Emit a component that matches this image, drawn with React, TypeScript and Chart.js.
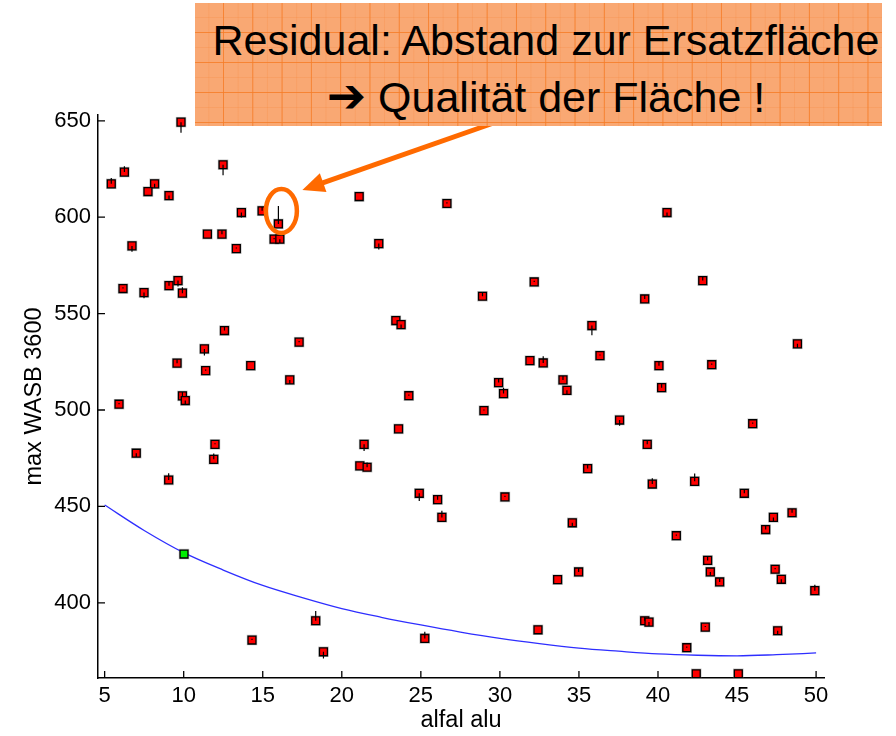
import React, { useEffect, useRef } from "react";
import { Chart, registerables } from "chart.js";

Chart.register(...registerables);

// Measured samples: alfal alu vs. max WASB 3600
const sampleX = [
  9.83, 12.49, 6.25, 5.42, 8.16, 7.74, 9.07, 13.65, 14.96, 15.99,
  15.72, 16.08, 11.5, 12.42, 13.33, 21.1, 6.73, 6.16, 7.49, 9.07,
  9.64, 9.92, 12.58, 17.3, 11.31, 9.58, 11.39, 14.24, 16.71, 9.92,
  10.1, 5.91, 7.0, 11.98, 11.9, 9.05, 18.35, 14.32, 18.84, 21.14,
  26.65, 22.34, 32.17, 28.9, 23.42, 23.75, 35.82, 36.33, 31.9, 32.74,
  29.92, 33.99, 30.23, 34.24, 24.24, 28.99, 23.59, 21.41, 21.6, 35.55,
  24.9, 26.06, 26.33, 30.32, 34.58, 34.98, 33.65, 32.41, 25.25, 37.57,
  40.57, 42.83, 39.16, 48.82, 40.06, 43.4, 40.23, 45.99, 39.32, 39.64,
  42.32, 45.46, 48.48, 47.3, 46.81, 41.16, 43.14, 43.31, 43.9, 47.41,
  47.8, 49.92, 39.16, 39.43, 42.99, 47.57, 41.82, 42.42, 45.08,
];
const sampleY = [
  649.3, 627.2, 623.4, 617.3, 617.3, 613.3, 611.2, 602.4, 603.3, 596.5,
  588.6, 588.6, 591.2, 591.2, 583.7, 610.7, 585.1, 563.0, 560.9, 564.5,
  567.1, 560.6, 541.2, 535.2, 531.7, 524.3, 520.4, 523.0, 515.6, 507.3,
  504.9, 503.0, 477.6, 482.2, 474.4, 463.7, 390.7, 380.7, 374.6, 471.0,
  607.1, 586.3, 566.4, 559.0, 546.4, 544.3, 543.8, 528.2, 525.6, 524.4,
  514.2, 515.6, 508.5, 510.2, 507.4, 499.7, 490.2, 482.2, 470.3, 469.6,
  456.8, 453.5, 444.3, 454.9, 441.5, 416.0, 412.0, 386.0, 381.5, 494.8,
  602.4, 567.1, 557.6, 534.3, 523.0, 523.5, 511.6, 492.9, 482.2, 461.6,
  463.0, 456.8, 446.7, 444.3, 438.0, 434.8, 422.0, 416.0, 410.8, 417.4,
  412.2, 406.3, 390.7, 390.0, 387.4, 385.5, 376.7, 363.2, 363.2,
];
// Residual: signed distance from each sample to the fitted surface
const residual = [
  -5.5, -5.5, 3, 3, -2, 0, -2, -2.5, 2, 9.3,
  0.6, -2, 0, 2, 0.6, 0, -3, 0.6, -3, 2,
  -3, 3, 2, 0.6, -3.5, 2, 0.6, 0, -2, 2,
  -2, 0.6, -2, 0.6, 3, 3.5, 5, 0.6, -3.5, 0,
  0.6, -3, 0.6, 2, 0, -2, -5, 0.6, 0, 3.5,
  2, 2, 3, -2, 0.6, 0.6, 0, -3.5, 2.5, 2,
  -4, 2, 3.5, 0.6, -2, 2, 0, 0, 3.5, -3,
  -2, 2, 2, -2, 2, 0.6, 2, 0.6, 2, 3,
  4, 2, 2, -2, 2, 0.6, 2, -2, 2, 0.6,
  -2, 3, 2, -2, 0.6, -2, 0.6, 0, 0,
];

// Reference sample on the surface
const refX = [10.02];
const refY = [425.3];

// Section through the fitted surface (Ersatzfläche)
const fitX = [5, 7.5, 10, 12.5, 15, 17.5, 20, 22.5, 25, 27.5, 30, 32.5, 35, 37.5, 40, 42.5, 45, 47.5, 50];
const fitY = [450.7, 437.5, 426.0, 417.0, 409.0, 402.7, 397.0, 392.5, 388.5, 384.8, 381.5, 378.8, 376.5, 374.9, 373.5, 372.8, 372.5, 373.1, 374.0];

const xTicks = [5, 10, 15, 20, 25, 30, 35, 40, 45, 50];
const yTicks = [400, 450, 500, 550, 600, 650];

// Sample highlighted by the callout
const markedIndex = 9;

const FONT = '"Liberation Sans", Arial, Helvetica, "DejaVu Sans", sans-serif';
const ORANGE = "#ff6a00";

const inwardTicks = {
  id: "inwardTicks",
  beforeDatasetsDraw(chart: any) {
    const { ctx, chartArea: a, scales } = chart;
    const x = scales.x;
    const y = scales.y;
    ctx.save();
    ctx.strokeStyle = "#000";
    ctx.lineWidth = 1.3;
    ctx.beginPath();
    xTicks.forEach((v) => {
      const p = x.getPixelForValue(v);
      ctx.moveTo(p, a.bottom);
      ctx.lineTo(p, a.bottom - 7);
    });
    yTicks.forEach((v) => {
      const p = y.getPixelForValue(v);
      ctx.moveTo(a.left, p);
      ctx.lineTo(a.left + 7, p);
    });
    ctx.stroke();
    ctx.restore();
  },
};

const residualStems = {
  id: "residualStems",
  afterDatasetsDraw(chart: any) {
    const { ctx, scales } = chart;
    const x = scales.x;
    const y = scales.y;
    ctx.save();
    ctx.strokeStyle = "#000";
    ctx.lineWidth = 1.2;
    ctx.beginPath();
    sampleX.forEach((vx, i) => {
      const r = residual[i];
      if (!r) return;
      const px = x.getPixelForValue(vx);
      ctx.moveTo(px, y.getPixelForValue(sampleY[i]));
      ctx.lineTo(px, y.getPixelForValue(sampleY[i] + r));
    });
    ctx.stroke();
    ctx.restore();
  },
};

const callout = {
  id: "callout",
  afterDraw(chart: any) {
    const { ctx, scales } = chart;
    const cx = scales.x.getPixelForValue(sampleX[markedIndex]) + 3;
    const cy = scales.y.getPixelForValue(sampleY[markedIndex]) - 13;
    ctx.save();
    ctx.strokeStyle = ORANGE;
    ctx.fillStyle = ORANGE;
    // ring round the marked sample
    ctx.lineWidth = 4.5;
    ctx.beginPath();
    ctx.ellipse(cx, cy, 15.5, 22, 0, 0, Math.PI * 2);
    ctx.stroke();
    // arrow from the caption box to the ring
    const tipX = cx + 21;
    const tipY = cy - 21;
    const tailX = 505;
    const tailY = 119;
    const ang = Math.atan2(tipY - tailY, tipX - tailX);
    const headLen = 22;
    const headHalf = 10;
    const bx = tipX - headLen * Math.cos(ang);
    const by = tipY - headLen * Math.sin(ang);
    ctx.lineWidth = 5;
    ctx.lineCap = "butt";
    ctx.beginPath();
    ctx.moveTo(tailX, tailY);
    ctx.lineTo(bx + 2 * Math.cos(ang), by + 2 * Math.sin(ang));
    ctx.stroke();
    ctx.beginPath();
    ctx.moveTo(tipX, tipY);
    ctx.lineTo(bx + headHalf * Math.sin(ang), by - headHalf * Math.cos(ang));
    ctx.lineTo(bx - headHalf * Math.sin(ang), by + headHalf * Math.cos(ang));
    ctx.closePath();
    ctx.fill();
    ctx.restore();
  },
};

export default function App() {
  const canvasRef = useRef<HTMLCanvasElement | null>(null);

  useEffect(() => {
    const canvas = canvasRef.current;
    if (!canvas) return;

    const samples = sampleX.map((x, i) => ({ x, y: sampleY[i] }));
    const refs = refX.map((x, i) => ({ x, y: refY[i] }));
    const fit = fitX.map((x, i) => ({ x, y: fitY[i] }));

    const chart = new Chart(canvas, {
      type: "scatter",
      data: {
        datasets: [
          {
            label: "reference",
            data: refs,
            pointStyle: "rect",
            pointRadius: 5.6,
            pointBackgroundColor: "#00ee00",
            pointBorderColor: "#000",
            pointBorderWidth: 1.3,
          },
          {
            label: "samples",
            data: samples,
            pointStyle: "rect",
            pointRadius: 5.6,
            pointBackgroundColor: "#ff0000",
            pointBorderColor: "#000",
            pointBorderWidth: 1.3,
          },
          {
            label: "halo",
            data: [...samples, ...refs],
            pointStyle: "rect",
            pointRadius: 7.4,
            pointBackgroundColor: "rgba(110,110,110,0.45)",
            pointBorderWidth: 0,
          },
          {
            label: "fit",
            data: fit,
            showLine: true,
            pointRadius: 0,
            borderColor: "#2e2eff",
            borderWidth: 1.3,
            cubicInterpolationMode: "monotone",
          },
        ],
      } as any,
      options: {
        animation: false,
        responsive: false,
        devicePixelRatio: 1,
        events: [],
        layout: { padding: { top: 115, right: 72, left: 0, bottom: 0 } },
        plugins: {
          legend: { display: false },
          tooltip: { enabled: false },
          title: { display: false },
        },
        scales: {
          x: {
            type: "linear",
            min: 4.58,
            max: 50.5,
            afterBuildTicks: (s: any) => {
              s.ticks = xTicks.map((v) => ({ value: v }));
            },
            afterFit: (s: any) => {
              s.height = 58;
            },
            grid: { display: false, drawTicks: false },
            border: { display: true, color: "#000", width: 1.5 },
            ticks: {
              color: "#000",
              font: { family: FONT, size: 22 },
              padding: 5,
              maxRotation: 0,
              autoSkip: false,
            },
            title: {
              display: true,
              text: "alfal alu",
              color: "#000",
              font: { family: FONT, size: 23.5 },
              padding: { top: 0, bottom: 1 },
            },
          },
          y: {
            type: "linear",
            min: 361,
            max: 653,
            afterBuildTicks: (s: any) => {
              s.ticks = yTicks.map((v) => ({ value: v }));
            },
            afterFit: (s: any) => {
              s.width = 98;
            },
            grid: { display: false, drawTicks: false },
            border: { display: true, color: "#000", width: 1.5 },
            ticks: {
              color: "#000",
              font: { family: FONT, size: 22 },
              padding: 7,
              autoSkip: false,
            },
            title: {
              display: true,
              text: "max WASB 3600",
              color: "#000",
              font: { family: FONT, size: 23.5 },
              padding: { top: 20, bottom: 0 },
            },
          },
        },
      } as any,
      plugins: [inwardTicks, residualStems, callout],
    });

    return () => chart.destroy();
  }, []);

  const lineStyle: React.CSSProperties = {
    height: 55,
    lineHeight: "55px",
    whiteSpace: "nowrap",
  };

  return (
    <div
      style={{
        position: "absolute",
        left: 0,
        top: 0,
        width: 896,
        height: 736,
        background: "#fff",
        overflow: "hidden",
      }}
    >
      <canvas ref={canvasRef} width={896} height={736} style={{ display: "block" }} />
      <div
        style={{
          position: "absolute",
          left: 195,
          top: 3,
          width: 687,
          height: 123,
          boxSizing: "border-box",
          paddingTop: 10,
          paddingLeft: 15,
          backgroundColor: "#f9a873",
          backgroundImage:
            "linear-gradient(to right, rgba(246,125,40,0.8) 1px, transparent 1px)," +
            "linear-gradient(to bottom, rgba(246,125,40,0.8) 1px, transparent 1px)," +
            "linear-gradient(to right, rgba(246,135,60,0.25) 1px, transparent 1px)," +
            "linear-gradient(to bottom, rgba(246,135,60,0.25) 1px, transparent 1px)",
          backgroundSize: "29.3px 30px, 29.3px 30px, 14.65px 15px, 14.65px 15px",
          backgroundPosition: "28px 29px, 28px 29px, 28px 29px, 28px 29px",
          fontFamily: FONT,
          fontSize: 43,
          color: "#000",
          textAlign: "center",
        }}
      >
        <div style={lineStyle}>Residual: Abstand zur Ersatzfläche</div>
        <div style={lineStyle}>
          <span style={{ fontFamily: '"DejaVu Sans", sans-serif', fontWeight: "bold", fontSize: 47 }}>➔</span> Qualität der Fläche !
        </div>
      </div>
    </div>
  );
}
